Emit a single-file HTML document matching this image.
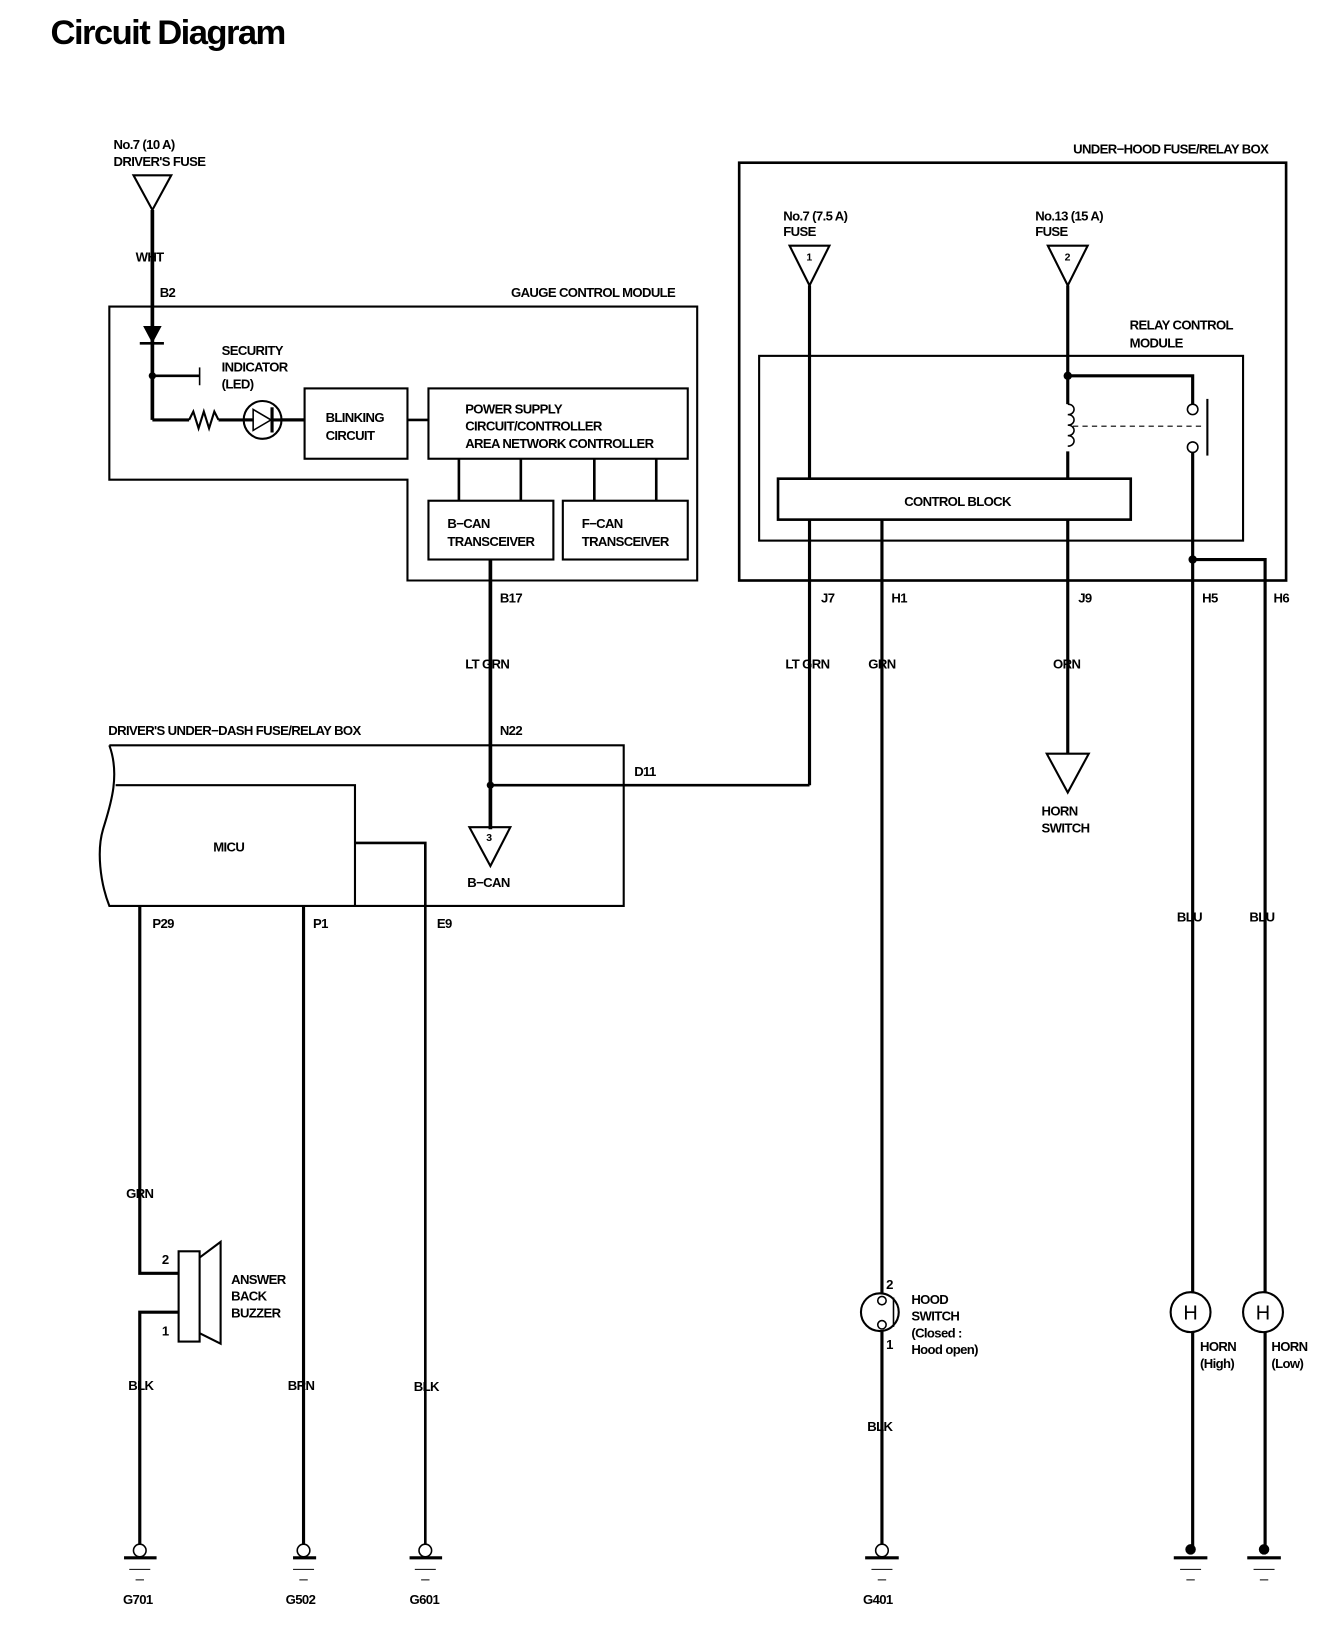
<!DOCTYPE html>
<html><head><meta charset="utf-8"><style>
html,body{margin:0;padding:0;background:#fff;}
svg{display:block}
text{font-family:"Liberation Sans Narrow","Liberation Sans",sans-serif;font-weight:bold;font-size:12.5px;letter-spacing:-0.6px;fill:#000}
</style></head><body>
<svg width="1344" height="1646" viewBox="0 0 1280 1568" xmlns="http://www.w3.org/2000/svg">
<text x="48" y="42" style="font-family:'Liberation Sans',sans-serif;font-size:33px;letter-spacing:-1.5px">Circuit Diagram</text>

<g fill="none" stroke="#000">
<path d="M127,167 L163,167 L145,200 Z" stroke-width="2"/>
<line x1="145" y1="200" x2="145" y2="400" stroke-width="3.5"/>
<path d="M104,292 L664,292 L664,553 L388,553 L388,457 L104,457 Z" stroke-width="2"/>
<path d="M137,311 L153,311 L145,326 Z" fill="#000" stroke-width="1"/>
<line x1="133" y1="327" x2="156" y2="327" stroke-width="2.5"/>
<line x1="145" y1="358" x2="190" y2="358" stroke-width="2.5"/>
<line x1="190" y1="350" x2="190" y2="367" stroke-width="1.5"/>
<line x1="145" y1="400" x2="180" y2="400" stroke-width="3"/>
<polyline points="180,400 184,392 189,408 194,392 199,408 204,392 208,400" stroke-width="2"/>
<line x1="208" y1="400" x2="290" y2="400" stroke-width="3"/>
<circle cx="250" cy="400" r="18" fill="#fff" stroke-width="2"/>
<path d="M241,390 L241,410 L258,400 Z" stroke-width="1.5"/>
<line x1="259" y1="388" x2="259" y2="412" stroke-width="3"/>
<line x1="232" y1="400" x2="241" y2="400" stroke-width="3"/>
<line x1="259" y1="400" x2="290" y2="400" stroke-width="3"/>
<rect x="290" y="370" width="98" height="67" stroke-width="2"/>
<line x1="388" y1="400" x2="408" y2="400" stroke-width="2.5"/>
<rect x="408" y="370" width="247" height="67" stroke-width="2"/>
<line x1="437" y1="437" x2="437" y2="477" stroke-width="2.5"/>
<line x1="496" y1="437" x2="496" y2="477" stroke-width="2.5"/>
<line x1="566" y1="437" x2="566" y2="477" stroke-width="2.5"/>
<line x1="625" y1="437" x2="625" y2="477" stroke-width="2.5"/>
<rect x="408" y="477" width="119" height="56" stroke-width="2"/>
<rect x="536" y="477" width="119" height="56" stroke-width="2"/>
<line x1="467" y1="533" x2="467" y2="790" stroke-width="3.5"/>

<path d="M104,710 L594,710 L594,863 L104,863 C95,840 92,810 98,790 C104,770 115,740 104,710" stroke-width="2"/>
<path d="M110,748 L338,748 L338,863" stroke-width="2"/>
<path d="M338,803 L405,803 L405,1480" stroke-width="2.5"/>
<line x1="467" y1="748" x2="771" y2="748" stroke-width="2.5"/>
<path d="M447,788 L486,788 L467,825 Z" stroke-width="2"/>

<path d="M133,863 L133,1213 L170,1213" stroke-width="3"/>
<path d="M170,1250 L133,1250 L133,1480" stroke-width="3"/>
<line x1="289" y1="863" x2="289" y2="1480" stroke-width="3"/>
<rect x="170" y="1192" width="20" height="86" stroke-width="2"/>
<path d="M190,1198 L210,1183 L210,1280 L190,1270" stroke-width="2"/>

<rect x="704" y="155" width="521" height="398" stroke-width="2.5"/>
<path d="M752,234 L790,234 L771,272 Z" stroke-width="2"/>
<path d="M998,234 L1036,234 L1017,272 Z" stroke-width="2"/>
<line x1="771" y1="272" x2="771" y2="748" stroke-width="3"/>
<line x1="1017" y1="272" x2="1017" y2="385" stroke-width="3"/>
<path d="M1017,385 c8,0 8,10 0,10 c8,0 8,10 0,10 c8,0 8,10 0,10 c8,0 8,10 0,10" stroke-width="1.5"/>
<line x1="1017" y1="430" x2="1017" y2="718" stroke-width="3"/>
<rect x="723" y="339" width="461" height="176" stroke-width="2"/>
<path d="M1017,358 L1136,358 L1136,385" stroke-width="3"/>
<circle cx="1136" cy="390" r="5" stroke-width="1.5"/>
<circle cx="1136" cy="426" r="5" stroke-width="1.5"/>
<line x1="1150" y1="380" x2="1150" y2="434" stroke-width="2"/>
<line x1="1022" y1="406" x2="1146" y2="406" stroke-width="1" stroke-dasharray="5,4"/>
<line x1="1136" y1="431" x2="1136" y2="1478" stroke-width="3"/>
<path d="M1136,533 L1205,533 L1205,1478" stroke-width="3"/>
<rect x="741" y="456" width="336" height="39" fill="#fff" stroke-width="2.5"/>
<line x1="840" y1="495" x2="840" y2="1480" stroke-width="3"/>
<path d="M997,718 L1037,718 L1017,755 Z" stroke-width="2"/>
<circle cx="838" cy="1250" r="18" fill="#fff" stroke-width="2"/>
<circle cx="840" cy="1239" r="4" fill="#fff" stroke-width="1.5"/>
<circle cx="840" cy="1262" r="4" fill="#fff" stroke-width="1.5"/>
<line x1="851" y1="1236" x2="851" y2="1264" stroke-width="1.5"/>
<circle cx="1134" cy="1250" r="19" fill="#fff" stroke-width="2"/>
<circle cx="1203" cy="1250" r="19" fill="#fff" stroke-width="2"/>
</g>
<g fill="#000">
<circle cx="145" cy="358" r="3.5"/>
<circle cx="467" cy="748" r="3.5"/>
<circle cx="1017" cy="358" r="4"/>
<circle cx="1136" cy="533" r="4"/>
<circle cx="1134" cy="1476" r="5"/>
<circle cx="1204" cy="1476" r="5"/>
</g>
<g fill="#fff" stroke="#000" stroke-width="1.5">
<circle cx="133" cy="1477" r="6"/><circle cx="289" cy="1477" r="6"/><circle cx="405" cy="1477" r="6"/><circle cx="840" cy="1477" r="6"/>
</g>
<g stroke="#000">
<path d="M118,1484 H149 M279,1484 H301 M390,1484 H421 M824,1484 H856 M1118,1484 H1150 M1188,1484 H1220" stroke-width="3"/>
<path d="M123,1495 H143 M279,1495 H299 M395,1495 H415 M830,1495 H850 M1124,1495 H1144 M1194,1495 H1214" stroke-width="1"/>
<path d="M129,1505 H137 M285,1505 H293 M401,1505 H409 M836,1505 H844 M1130,1505 H1138 M1200,1505 H1208" stroke-width="1"/>
</g>

<text x="108" y="142">No.7 (10 A)</text>
<text x="108" y="158">DRIVER'S FUSE</text>
<text x="129" y="249">WHT</text>
<text x="152" y="283">B2</text>
<text x="643" y="283" text-anchor="end">GAUGE CONTROL MODULE</text>
<text x="211" y="338">SECURITY</text>
<text x="211" y="354">INDICATOR</text>
<text x="211" y="370">(LED)</text>
<text x="310" y="402">BLINKING</text>
<text x="310" y="419">CIRCUIT</text>
<text x="443" y="394">POWER SUPPLY</text>
<text x="443" y="410">CIRCUIT/CONTROLLER</text>
<text x="443" y="427">AREA NETWORK CONTROLLER</text>
<text x="426" y="503">B−CAN</text>
<text x="426" y="520">TRANSCEIVER</text>
<text x="554" y="503">F−CAN</text>
<text x="554" y="520">TRANSCEIVER</text>
<text x="476" y="574">B17</text>
<text x="443" y="637">LT GRN</text>
<text x="476" y="700">N22</text>
<text x="103" y="700">DRIVER'S UNDER−DASH FUSE/RELAY BOX</text>
<text x="604" y="739">D11</text>
<text x="203" y="811">MICU</text>
<text x="463" y="801" style="font-size:10px">3</text>
<text x="445" y="845">B−CAN</text>
<text x="145" y="884">P29</text>
<text x="298" y="884">P1</text>
<text x="416" y="884">E9</text>
<text x="120" y="1141">GRN</text>
<text x="154" y="1204">2</text>
<text x="154" y="1272">1</text>
<text x="220" y="1223">ANSWER</text>
<text x="220" y="1239">BACK</text>
<text x="220" y="1255">BUZZER</text>
<text x="122" y="1324">BLK</text>
<text x="274" y="1324">BRN</text>
<text x="394" y="1325">BLK</text>
<text x="117" y="1528">G701</text>
<text x="272" y="1528">G502</text>
<text x="390" y="1528">G601</text>
<text x="822" y="1528">G401</text>
<text x="1208" y="146" text-anchor="end">UNDER−HOOD FUSE/RELAY BOX</text>
<text x="746" y="210">No.7 (7.5 A)</text>
<text x="746" y="225">FUSE</text>
<text x="986" y="210">No.13 (15 A)</text>
<text x="986" y="225">FUSE</text>
<text x="768" y="248" style="font-size:10px">1</text>
<text x="1014" y="248" style="font-size:10px">2</text>
<text x="1076" y="314">RELAY CONTROL</text>
<text x="1076" y="331">MODULE</text>
<text x="912" y="482" text-anchor="middle">CONTROL BLOCK</text>
<text x="782" y="574">J7</text>
<text x="849" y="574">H1</text>
<text x="1027" y="574">J9</text>
<text x="1145" y="574">H5</text>
<text x="1213" y="574">H6</text>
<text x="748" y="637">LT GRN</text>
<text x="827" y="637">GRN</text>
<text x="1003" y="637">ORN</text>
<text x="992" y="777">HORN</text>
<text x="992" y="793">SWITCH</text>
<text x="1121" y="878">BLU</text>
<text x="1190" y="878">BLU</text>
<text x="844" y="1228">2</text>
<text x="844" y="1285">1</text>
<text x="868" y="1242">HOOD</text>
<text x="868" y="1258">SWITCH</text>
<text x="868" y="1274">(Closed :</text>
<text x="868" y="1290">Hood open)</text>
<text x="826" y="1363">BLK</text>
<text x="1134" y="1257" text-anchor="middle" style="font-family:'Liberation Sans',sans-serif;font-weight:normal;font-size:19px;letter-spacing:0">H</text>
<text x="1203" y="1257" text-anchor="middle" style="font-family:'Liberation Sans',sans-serif;font-weight:normal;font-size:19px;letter-spacing:0">H</text>
<text x="1143" y="1287">HORN</text>
<text x="1143" y="1303">(High)</text>
<text x="1211" y="1287">HORN</text>
<text x="1211" y="1303">(Low)</text>
</svg>
</body></html>
